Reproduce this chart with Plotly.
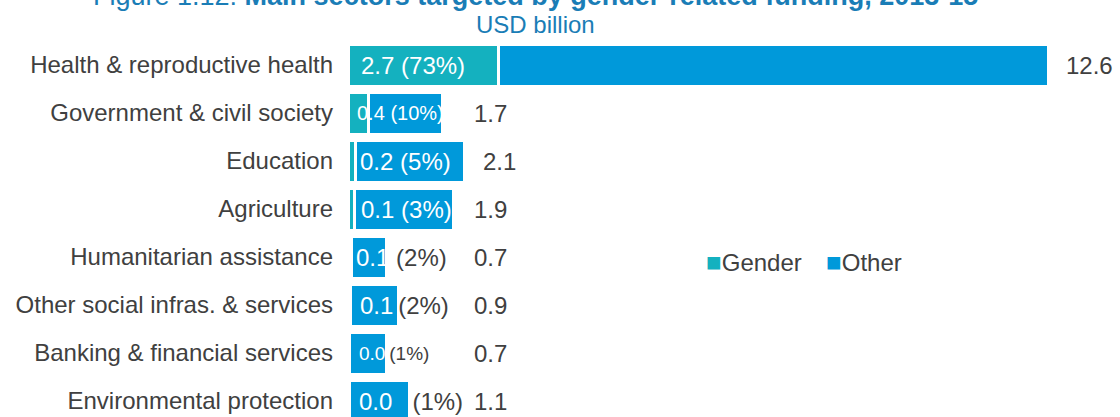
import plotly.graph_objects as go

sectors = [
    "Health & reproductive health",
    "Government & civil society",
    "Education",
    "Agriculture",
    "Humanitarian assistance",
    "Other social infras. & services",
    "Banking & financial services",
    "Environmental protection",
]
totals = [12.6, 1.7, 2.1, 1.9, 0.7, 0.9, 0.7, 1.1]
gender = [2.7, 0.37, 0.14, 0.11, 0.06, 0.05, 0.02, 0.02]
gender_labels = ["2.7", "0.4", "0.2", "0.1", "0.1", "0.1", "0.0", "0.0"]
gender_share = [73, 10, 5, 3, 2, 2, 1, 1]
other = [round(t - g, 2) for t, g in zip(totals, gender)]

TEAL = "#14b1bf"
BLUE = "#0099da"
DARK = "#404040"
TITLE = "#1a7db6"
FONT = "Liberation Sans, Arial, sans-serif"

fig = go.Figure()
fig.add_trace(go.Bar(
    y=sectors, x=gender, orientation="h", name="Gender",
    marker=dict(color=TEAL, line=dict(color="white", width=3)),
    width=0.875, showlegend=False, hoverinfo="x+y",
))
fig.add_trace(go.Bar(
    y=sectors, x=other, orientation="h", name="Other",
    marker=dict(color=BLUE, line=dict(color="white", width=3)),
    width=0.875, showlegend=False, hoverinfo="x+y",
))

# label styling (not data)
pct_inside = [True, True, True, True, False, False, False, False]
label_gap = [" ", " ", " ", " ", "\u00a0", "\u2009", "\u2009", "\u00a0\u00a0\u00a0"]
label_shift = [11, 7, 10, 11, 6, 10, 9, 9]
label_size = [24, 20, 24, 24, 24, 24, 19, 24]

annotations = []
for i, s in enumerate(sectors):
    pc = "white" if pct_inside[i] else DARK
    txt = (f"<span style='color:white'>{gender_labels[i]}</span>{label_gap[i]}"
           f"<span style='color:{pc}'>({gender_share[i]}%)</span>")
    annotations.append(dict(
        x=0, y=s, xref="x", yref="y", text=txt, showarrow=False,
        xanchor="left", yanchor="middle", xshift=label_shift[i],
        font=dict(family=FONT, size=label_size[i], color="white"),
    ))
    annotations.append(dict(
        x=max(totals[i], 1.95), y=s, xref="x", yref="y",
        text=f"{totals[i]:.1f}", showarrow=False,
        xanchor="left", yanchor="middle", xshift=16,
        font=dict(family=FONT, size=24, color=DARK),
    ))

# title and subtitle
annotations.append(dict(
    x=0.249, y=1.12, xref="paper", yref="paper", showarrow=False,
    text="Figure 1.12: <b>Main sectors targeted by gender-related funding, 2013-15</b>",
    xanchor="center", yanchor="middle", font=dict(family=FONT, size=27, color=TITLE),
))
annotations.append(dict(
    x=0.249, y=1.045, xref="paper", yref="paper", showarrow=False,
    text="USD billion", xanchor="center", yanchor="middle",
    font=dict(family=FONT, size=24, color=TITLE),
))

# legend drawn as text
for xpos, nm, col in [(0.474, "Gender", TEAL), (0.633, "Other", BLUE)]:
    annotations.append(dict(
        x=xpos, y=0.412, xref="paper", yref="paper", showarrow=False,
        text=f"<span style='color:{col};font-size:26px'>\u25a0</span>{nm}",
        xanchor="left", yanchor="middle",
        font=dict(family=FONT, size=24, color=DARK),
    ))

fig.update_layout(
    width=1120, height=417,
    margin=dict(l=348, r=20, t=41, b=0),
    barmode="stack",
    plot_bgcolor="white", paper_bgcolor="white",
    font=dict(family=FONT, size=24, color=DARK),
    xaxis=dict(range=[0, 752 / 55.56], visible=False, showgrid=False, zeroline=False),
    yaxis=dict(type="category", range=[7.333, -0.5], showgrid=False, zeroline=False,
               ticks="", ticklabelstandoff=14,
               tickfont=dict(family=FONT, size=24, color=DARK)),
    annotations=annotations,
)

fig.write_html("out.html", config={"displayModeBar": False},
               post_script="document.body.style.margin='0px';")
